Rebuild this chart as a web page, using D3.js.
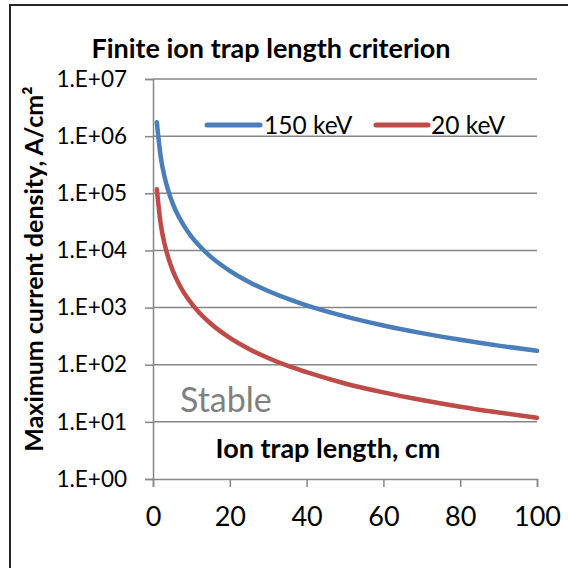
<!DOCTYPE html>
<html>
<head>
<meta charset="utf-8">
<script src="https://cdn.jsdelivr.net/npm/d3@7"></script>
<style>
  html, body { margin: 0; padding: 0; background: #fff; }
  svg { display: block; }
  text { font-family: Lato, "Open Sans", sans-serif; }
</style>
</head>
<body>
<svg id="chart" width="568" height="568"></svg>
<script>
// Trap length (cm) and the maximum current density (A/cm²) for each beam energy
const trapLength = [1, 2, 3, 4, 5, 6, 7, 8, 10, 12, 15, 20, 25, 30, 35, 40, 50, 60, 70, 80, 90, 100];
const density150keV = [1.75e6, 4.4e5, 1.95e5, 1.1e5, 7.0e4, 4.85e4, 3.6e4, 2.75e4, 1.75e4, 1.22e4, 7.8e3, 4.4e3, 2.8e3, 1.95e3, 1.43e3, 1.09e3, 700, 485, 357, 273, 216, 175];
const density20keV = [1.18e5, 2.95e4, 1.31e4, 7.4e3, 4.7e3, 3.28e3, 2.41e3, 1.84e3, 1.18e3, 820, 525, 295, 189, 131, 96, 74, 47, 32.8, 24.1, 18.4, 14.6, 11.8];
const seriesNames = ["150 keV", "20 keV"];
const xTicks = [0, 20, 40, 60, 80, 100];
const yTicks = [1e0, 1e1, 1e2, 1e3, 1e4, 1e5, 1e6, 1e7];
const yTickLabels = ["1.E+00", "1.E+01", "1.E+02", "1.E+03", "1.E+04", "1.E+05", "1.E+06", "1.E+07"];

const colors = ["#4A7EBB", "#BE4B48"];
const gridColor = "#868686";

const svg = d3.select("#chart");

// Outer chart frame (runs past the right and bottom edges)
svg.append("rect")
  .attr("x", 10).attr("y", 5).attr("width", 620).attr("height", 620)
  .attr("fill", "#fff").attr("stroke", "#262626").attr("stroke-width", 2);

const plot = { left: 153, right: 537, top: 79, bottom: 479 };

const x = d3.scaleLinear().domain([0, 100]).range([plot.left, plot.right]);
const y = d3.scaleLog().domain([1, 1e7]).range([plot.bottom, plot.top]);

// Horizontal gridlines
svg.append("g")
  .selectAll("line")
  .data(yTicks.slice(1))
  .join("line")
  .attr("x1", plot.left).attr("x2", plot.right)
  .attr("y1", d => y(d)).attr("y2", d => y(d))
  .attr("stroke", gridColor).attr("stroke-width", 1.5);

// Y axis
const yAxis = svg.append("g")
  .attr("transform", `translate(${plot.left},0)`)
  .call(d3.axisLeft(y).tickValues(yTicks).tickSize(8).tickPadding(18)
    .tickFormat((d, i) => yTickLabels[i]));
yAxis.select(".domain").attr("stroke", gridColor).attr("stroke-width", 1.5);
yAxis.selectAll(".tick line").attr("stroke", gridColor).attr("stroke-width", 1.5);
yAxis.selectAll(".tick text")
  .attr("fill", "#000").attr("font-size", 22.5)
  .style("font-family", "Lato, sans-serif");

// X axis
const xAxis = svg.append("g")
  .attr("transform", `translate(0,${plot.bottom})`)
  .call(d3.axisBottom(x).tickValues(xTicks).tickSize(8).tickPadding(20).tickFormat(d3.format("d")));
xAxis.select(".domain").attr("stroke", gridColor).attr("stroke-width", 1.5);
xAxis.selectAll(".tick line").attr("stroke", gridColor).attr("stroke-width", 1.5);
xAxis.selectAll(".tick text")
  .attr("fill", "#000").attr("font-size", 27)
  .style("font-family", "Lato, sans-serif");

// Curves
const line = d3.line()
  .x(d => x(d[0]))
  .y(d => y(d[1]))
  .curve(d3.curveMonotoneX);

[density150keV, density20keV].forEach((vals, i) => {
  svg.append("path")
    .datum(trapLength.map((t, j) => [t, vals[j]]))
    .attr("d", line)
    .attr("fill", "none")
    .attr("stroke", colors[i])
    .attr("stroke-width", 4.5)
    .attr("stroke-linecap", "round");
});

// Legend
const legendItems = [
  { x1: 207, x2: 260, tx: 264 },
  { x1: 376, x2: 428, tx: 431 }
];
const legendY = 125;
legendItems.forEach((it, i) => {
  svg.append("line")
    .attr("x1", it.x1).attr("x2", it.x2)
    .attr("y1", legendY).attr("y2", legendY)
    .attr("stroke", colors[i]).attr("stroke-width", 5)
    .attr("stroke-linecap", "round");
  svg.append("text")
    .attr("x", it.tx).attr("y", legendY)
    .attr("dy", "0.35em")
    .attr("font-size", 24.5)
    .attr("fill", "#000")
    .text(seriesNames[i]);
});

// Title
svg.append("text")
  .attr("x", 271).attr("y", 58)
  .attr("text-anchor", "middle")
  .attr("font-size", 27).attr("font-weight", "bold")
  .attr("fill", "#000")
  .text("Finite ion trap length criterion");

// Y axis title
svg.append("text")
  .attr("transform", "translate(43,269) rotate(-90)")
  .attr("text-anchor", "middle")
  .attr("font-size", 25).attr("font-weight", "bold")
  .attr("fill", "#000")
  .text("Maximum current density, A/cm²");

// X axis title (inside the plot)
svg.append("text")
  .attr("x", 328).attr("y", 458)
  .attr("text-anchor", "middle")
  .attr("font-size", 27).attr("font-weight", "bold")
  .attr("fill", "#000")
  .text("Ion trap length, cm");

// Region annotation
svg.append("text")
  .attr("x", 180).attr("y", 412)
  .attr("font-size", 34)
  .attr("fill", "#808080")
  .text("Stable");
</script>
</body>
</html>
